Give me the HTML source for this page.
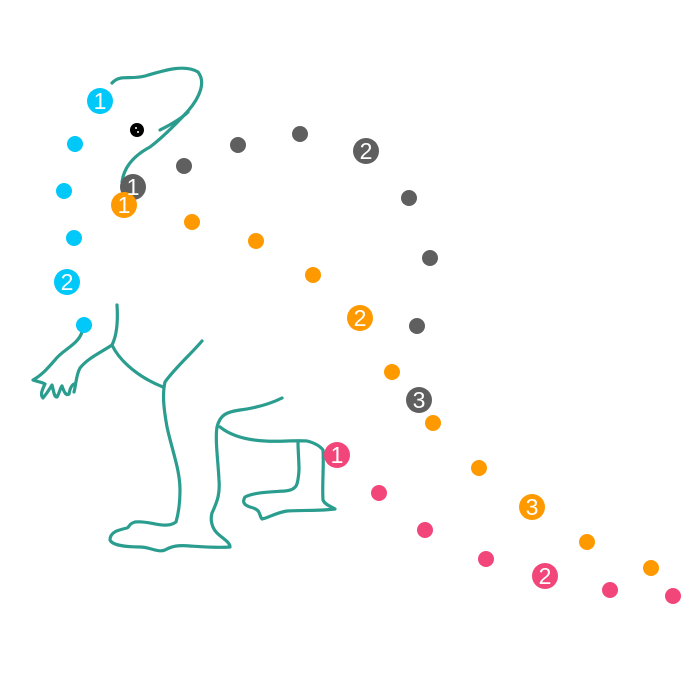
<!DOCTYPE html>
<html><head><style>body{margin:0;background:#fff}svg{display:block}</style></head><body>
<svg width="700" height="700" viewBox="0 0 700 700" xmlns="http://www.w3.org/2000/svg">
<g fill="none" stroke="#2a9d8f" stroke-width="3.2" stroke-linecap="round" stroke-linejoin="round">
<path d="M112,83 C120,74 130,80 145,76 C165,70 185,64 198,72 C206,82 200,97 188,111 C175,125 162,138 150,147 C135,155 124,166 122,182"/>
<path d="M160,130 C172,124 182,118 188,112"/>
<path d="M117,305 C118,320 117,335 112,345 C100,353 88,358 80,368 C76,375 76,385 74,392 M82,332 C78,345 62,350 55,360 C48,368 42,375 33,380 C38,382 42,382 45,384 C42,390 40,395 43,398 C48,392 50,388 52,385 C54,392 54,397 57,397 C60,392 60,388 62,386 C64,392 66,396 69,394 C70,388 72,385 74,384"/>
<path d="M112,345 C120,362 140,378 163,387 M202,341 C190,355 175,368 165,382 C162,395 164,410 167,427 C172,450 180,470 180,490 C180,505 178,515 176,522 C165,530 150,520 135,522 C128,524 130,527 127,528 C118,530 110,532 110,540 C112,545 125,547 140,547 C150,547 158,553 165,550 C172,546 178,545 190,546 C205,547 218,548 230,547 C230,542 222,538 217,533 C212,528 210,520 212,513 C218,500 220,493 219,480 C218,460 215,440 217,427 C220,415 226,412 240,410 C255,408 270,404 282,398"/>
<path d="M220,427 C230,435 245,440 265,441 C280,442 295,440 307,441 C315,443 320,446 323,450 C324,465 322,485 323,500 C325,505 332,507 335,509 C320,511 305,510 287,511 C275,513 268,518 262,519 C258,514 262,510 250,507 C244,505 242,502 245,497 C255,492 270,492 285,491 C297,490 298,485 299,470 C299,460 298,450 298,443"/>
</g>
<circle cx="137" cy="130" r="7" fill="#000"/><circle cx="136" cy="128" r="1" fill="#fff"/><circle cx="138" cy="132" r="1" fill="#fff"/>
<g font-family="Liberation Sans, sans-serif" font-size="23" fill="#fff" text-anchor="middle">
<g fill="#00c8f8"><circle cx="75" cy="144" r="8"/><circle cx="64" cy="191" r="8"/><circle cx="74" cy="238" r="8"/><circle cx="84" cy="325" r="8"/><circle cx="100" cy="101" r="13"/><circle cx="67" cy="282" r="13"/></g>
<g fill="#5f5f5f"><circle cx="184" cy="166" r="8"/><circle cx="238" cy="145" r="8"/><circle cx="300" cy="134" r="8"/><circle cx="409" cy="198" r="8"/><circle cx="430" cy="258" r="8"/><circle cx="417" cy="326" r="8"/><circle cx="133" cy="187" r="13"/><circle cx="366" cy="151" r="13"/><circle cx="419" cy="400" r="13"/></g>
<g fill="#ff9900"><circle cx="192" cy="222" r="8"/><circle cx="256" cy="241" r="8"/><circle cx="313" cy="275" r="8"/><circle cx="392" cy="372" r="8"/><circle cx="433" cy="423" r="8"/><circle cx="479" cy="468" r="8"/><circle cx="587" cy="542" r="8"/><circle cx="651" cy="568" r="8"/><circle cx="124" cy="205" r="13"/><circle cx="360" cy="318" r="13"/><circle cx="532" cy="507" r="13"/></g>
<g fill="#f2467b"><circle cx="379" cy="493" r="8"/><circle cx="425" cy="530" r="8"/><circle cx="486" cy="559" r="8"/><circle cx="610" cy="590" r="8"/><circle cx="673" cy="596" r="8"/><circle cx="337" cy="455" r="13"/><circle cx="545" cy="576" r="13"/></g>
<text x="100" y="109">1</text><text x="67" y="290">2</text>
<text x="133" y="195">1</text><text x="366" y="159">2</text><text x="419" y="408">3</text>
<text x="124" y="213">1</text><text x="360" y="326">2</text><text x="532" y="515">3</text>
<text x="337" y="463">1</text><text x="545" y="584">2</text>
</g>
</svg>
</body></html>
